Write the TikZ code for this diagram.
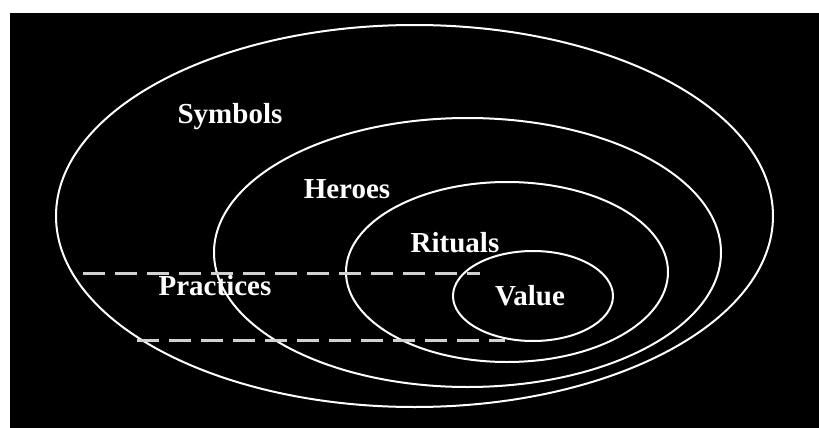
\documentclass[tikz,border=0pt]{standalone}
\usepackage{fontspec}
\setmainfont{Liberation Serif}
\begin{document}
\begin{tikzpicture}[x=1pt,y=-1pt,
  ring/.style={draw=white,line width=2pt},
  cut/.style={draw=white!82!black,line width=3pt,dash pattern=on 22pt off 10pt},
  lbl/.style={text=white,font=\fontsize{29}{34}\selectfont\bfseries,anchor=base,inner sep=0pt}]
\useasboundingbox (0,0) rectangle (819,428);
\fill[white] (0,0) rectangle (819,428);
\fill[black] (10,13) rectangle (819,428);
\draw[ring] (414.5,216) ellipse [x radius=358.5, y radius=191];
\draw[ring] (467.5,252.5) ellipse [x radius=253.5, y radius=134.5];
\draw[ring] (507,272) ellipse [x radius=161, y radius=90];
\draw[ring] (533,296) ellipse [x radius=80, y radius=45];
\coordinate (u1) at (83,273);
\coordinate (u2) at (480,273);
\coordinate (l1) at (137,340);
\coordinate (l2) at (505,340);
\draw[cut] (u1) -- (u2);
\draw[cut] (l1) -- (l2);
\node[lbl] (sym) at (230,123) {Symbols};
\node[lbl] (her) at (347,198) {Heroes};
\node[lbl] (rit) at (455,252) {Rituals};
\node[lbl] (pra) at (215,295) {Practices};
\node[lbl] (val) at (530,305) {Value};
\end{tikzpicture}
\end{document}
